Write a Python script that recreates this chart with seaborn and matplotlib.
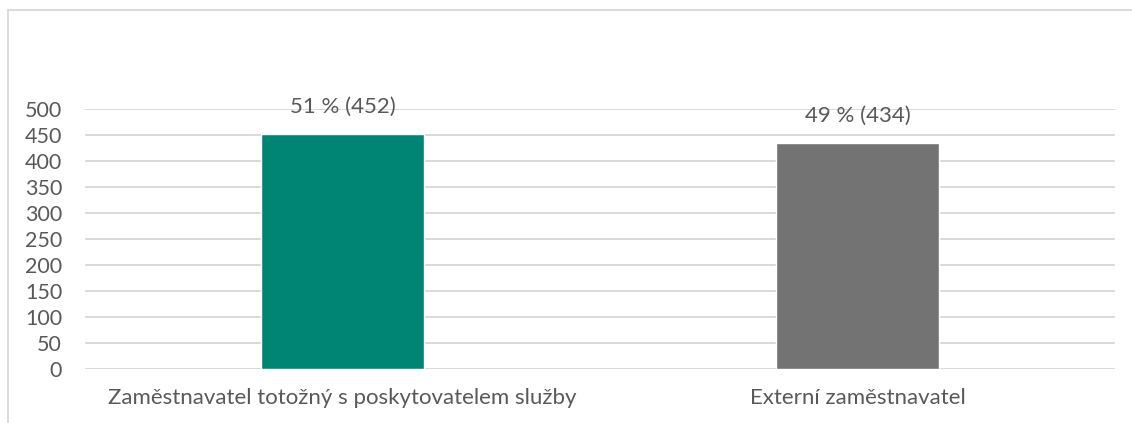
import matplotlib
matplotlib.use("Agg")
import matplotlib.pyplot as plt
import seaborn as sns
import pandas as pd
from matplotlib.patches import Rectangle

categories = ["Zaměstnavatel totožný s poskytovatelem služby", "Externí zaměstnavatel"]
counts = [452, 434]
percents = [51, 49]
colors = ["#008575", "#737373"]

sns.set_theme(style="white")
plt.rcParams["font.family"] = ["Lato", "DejaVu Sans"]
text_color = "#595959"

df = pd.DataFrame({"cat": categories, "n": counts})

fig = plt.figure(figsize=(11.32, 4.23), dpi=100)
ax = fig.add_axes([85 / 1132, 1 - 369 / 423, 1030 / 1132, 260 / 423])

sns.barplot(data=df, x="cat", y="n", hue="cat", palette=colors, legend=False,
            width=0.315, ax=ax, saturation=1)

ax.set_ylim(0, 500)
ax.set_yticks(range(0, 501, 50))
ax.yaxis.grid(True, color="#d9d9d9", linewidth=1.4)
ax.set_axisbelow(True)
for s in ax.spines.values():
    s.set_visible(False)
ax.set_xlabel("")
ax.set_ylabel("")
ax.tick_params(axis="y", labelsize=15.5, colors=text_color, pad=16.5, length=0)
ax.tick_params(axis="x", labelsize=16, colors=text_color, pad=14, length=0)

for i, (n, p) in enumerate(zip(counts, percents)):
    ax.annotate(f"{p} % ({n})", (i, n), xytext=(0, 19.5), textcoords="offset points",
                ha="center", va="center", fontsize=16, color=text_color)

# outer chart border (right/bottom sides run past the image)
fig.patches.append(Rectangle((8 / 1132, -0.1), 1.2, 1 - 10 / 423 + 0.1,
                             transform=fig.transFigure, fill=False,
                             edgecolor="#d9d9d9", linewidth=1.3))

fig.savefig("out.png", dpi=100)
